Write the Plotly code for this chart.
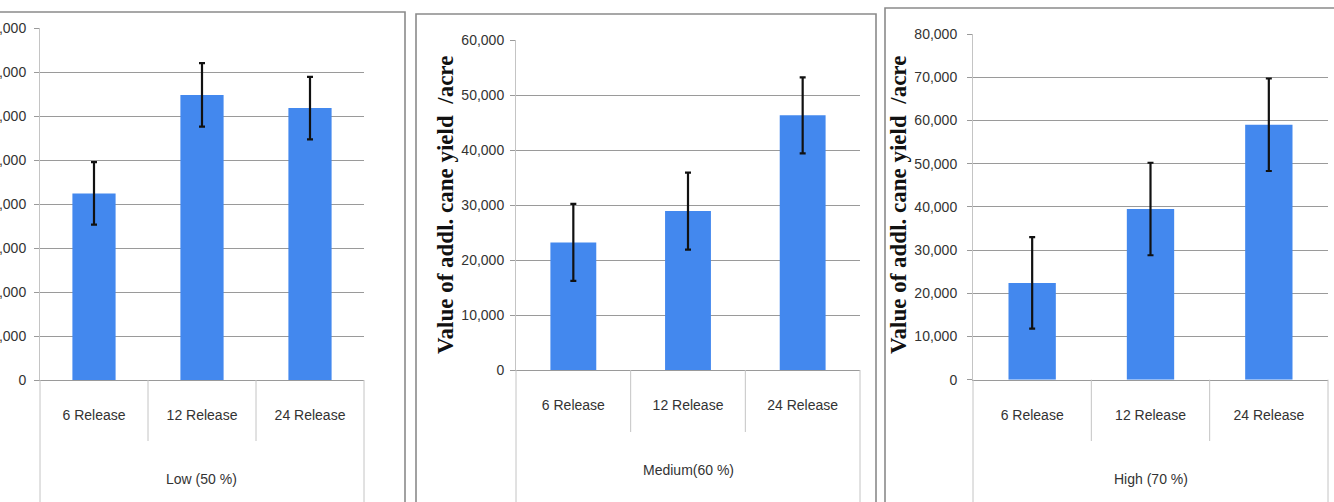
import plotly.graph_objects as go

# ---- data -------------------------------------------------------------
categories = ["6 Release", "12 Release", "24 Release"]

low_values = [21200, 32400, 30900]
low_errors = [3550, 3600, 3550]

medium_values = [23200, 28900, 46300]
medium_errors = [7000, 7000, 6900]

high_values = [22400, 39500, 59000]
high_errors = [10600, 10700, 10700]

group_labels = ["Low (50 %)", "Medium(60 %)", "High (70 %)"]
y_maxima = [40000, 60000, 80000]
y_steps = [5000, 10000, 10000]
y_title = "Value of addl. cane yield  /acre"

# ---- layout helpers (pixel -> paper) ----------------------------------
W, H = 1334, 502


def fx(p):
    return p / W


def fy(p):
    return 1 - p / H


BAR = "#4388EE"
GRID = "#9a9a9a"
LIGHT = "#c4c4c4"
FRAME = "#8a8a8a"
TEXT = "#333333"
SANS = "Liberation Sans, Arial, sans-serif"
SERIF = "Liberation Serif, Times New Roman, serif"

# plot boxes (left, right, top, bottom), panel frames, label placement
panels = [
    dict(values=low_values, errors=low_errors,
         box=(40, 364, 28, 380), frame=(-10, 405, 12, 530),
         div_bottom=441, group_y=479, ystand=5, title_x=None),
    dict(values=medium_values, errors=medium_errors,
         box=(516, 860, 40, 370), frame=(416, 876, 14, 530),
         div_bottom=432, group_y=470, ystand=3, title_x=445),
    dict(values=high_values, errors=high_errors,
         box=(973, 1328, 34, 379.7), frame=(885, 1345, 8, 530),
         div_bottom=441, group_y=479, ystand=7, title_x=898),
]

fig = go.Figure()
shapes = []
annotations = []
layout_axes = {}

for i, p in enumerate(panels):
    n = "" if i == 0 else str(i + 1)
    xa, ya = "x" + n, "y" + n
    left, right, top, bottom = p["box"]

    fig.add_trace(go.Bar(
        x=categories, y=p["values"], xaxis=xa, yaxis=ya,
        marker=dict(color=BAR, line=dict(width=0)),
        error_y=dict(type="data", array=p["errors"], visible=True,
                     color="#111111", thickness=2.2, width=3),
        showlegend=False,
    ))

    layout_axes["xaxis" + n] = dict(
        domain=[fx(left), fx(right)], anchor=ya, type="category",
        range=[-0.5, 2.5], showgrid=False, zeroline=False,
        showline=True, linecolor=GRID, linewidth=1, ticks="",
        tickfont=dict(family=SANS, size=14, color=TEXT),
        ticklabelstandoff=22, automargin=False, fixedrange=True,
    )
    layout_axes["yaxis" + n] = dict(
        domain=[fy(bottom), fy(top)], anchor=xa,
        range=[0, y_maxima[i]], tickmode="linear", tick0=0, dtick=y_steps[i],
        tickformat=",d", showgrid=True, gridcolor=GRID, gridwidth=1,
        zeroline=False, showline=True, linecolor=LIGHT, linewidth=1,
        ticks="outside", ticklen=5, tickcolor=GRID,
        tickfont=dict(family=SANS, size=14, color=TEXT),
        ticklabelstandoff=p["ystand"], automargin=False, fixedrange=True,
    )

    # category dividers of the two-level axis
    for frac in (1 / 3, 2 / 3):
        shapes.append(dict(type="line", xref=xa + " domain", yref="paper",
                           x0=frac, x1=frac, y0=fy(bottom), y1=fy(p["div_bottom"]),
                           line=dict(color=LIGHT, width=1)))
    for frac in (0, 1):
        shapes.append(dict(type="line", xref=xa + " domain", yref="paper",
                           x0=frac, x1=frac, y0=fy(bottom), y1=fy(H + 5),
                           line=dict(color=LIGHT, width=1)))

    # group label under the categories
    annotations.append(dict(
        text=group_labels[i], xref=xa + " domain", yref="paper",
        x=0.5, y=fy(p["group_y"]), showarrow=False,
        xanchor="center", yanchor="middle",
        font=dict(family=SANS, size=14, color=TEXT),
    ))

    # value axis title
    if p["title_x"] is not None:
        annotations.append(dict(
            text="<b>" + y_title + "</b>", xref="paper", yref="paper",
            x=fx(p["title_x"]), y=fy(205), textangle=-90,
            showarrow=False, xanchor="center", yanchor="middle",
            font=dict(family=SERIF, size=23, color="#111111"),
        ))

    # chart frame
    fl, fr, ft, fb = p["frame"]
    shapes.append(dict(type="rect", xref="paper", yref="paper",
                       x0=fx(fl), x1=fx(fr), y0=fy(fb), y1=fy(ft),
                       line=dict(color=FRAME, width=1.6), layer="below"))

fig.update_layout(
    width=W, height=H, margin=dict(l=0, r=0, t=0, b=0),
    paper_bgcolor="white", plot_bgcolor="white",
    bargap=0.6, shapes=shapes, annotations=annotations,
    showlegend=False, **layout_axes,
)

fig.write_html("out.html", config={"displayModeBar": False})
